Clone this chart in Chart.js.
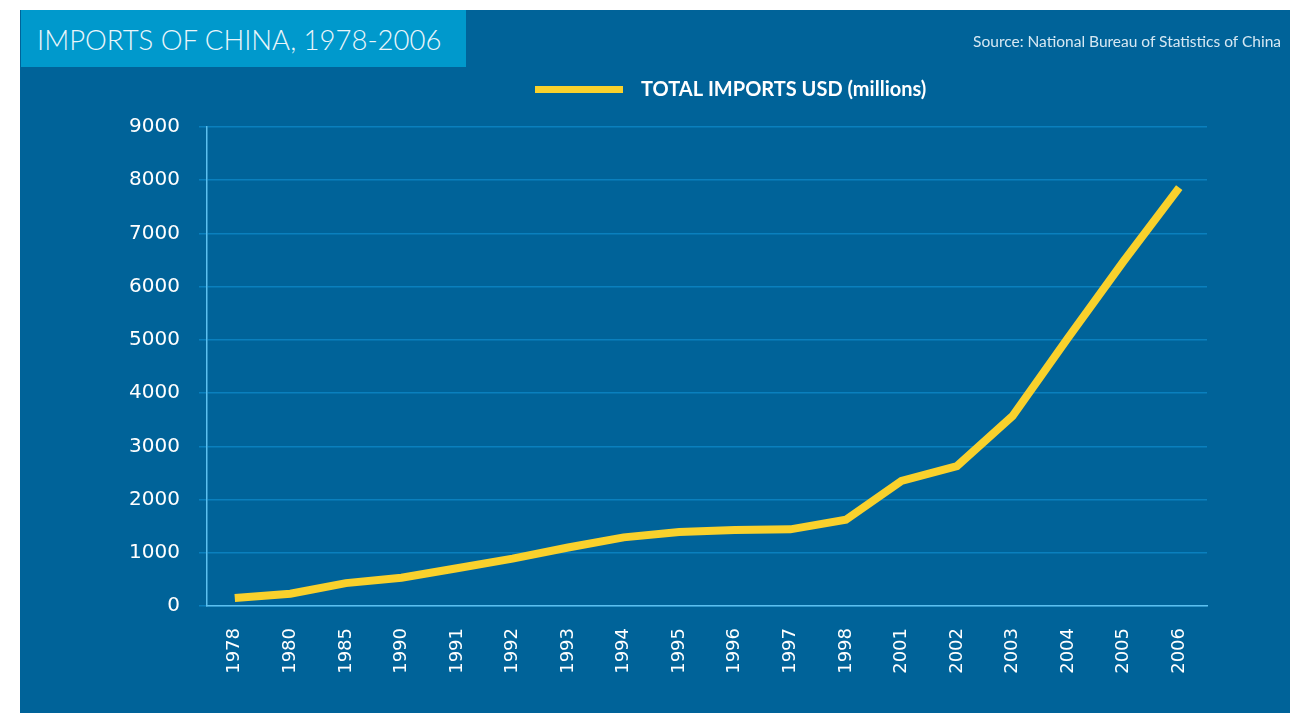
<!DOCTYPE html>
<html>
<head>
<meta charset="utf-8">
<script src="https://cdn.jsdelivr.net/npm/chart.js@4.4.0/dist/chart.umd.min.js"></script>
<style>
    html, body { margin: 0; padding: 0; background: #ffffff; }
    #panel { position: absolute; left: 20px; top: 10px; width: 1270px; height: 703px; background: #006399; }
    #titleBox { position: absolute; left: 1px; top: 0; width: 445px; height: 57px; background: #0099cc;
        color: #eaf6fb; font-family: Lato, sans-serif; font-weight: 300; font-size: 27.5px; line-height: 59px;
        padding-left: 16px; box-sizing: border-box; white-space: nowrap; }
    #source { position: absolute; right: 9px; top: 22px; color: #d6e8f3; font-family: Lato, sans-serif;
        font-size: 15.5px; white-space: nowrap; }
    #chartWrap { position: absolute; left: 0; top: 0; width: 1270px; height: 703px; }
    #importsChart { display: block; width: 1270px; height: 703px; }
</style>
</head>
<body>
<div id="panel">
    <div id="chartWrap"><canvas id="importsChart" width="1270" height="703"></canvas></div>
    <div id="titleBox">IMPORTS OF CHINA, 1978-2006</div>
    <div id="source">Source: National Bureau of Statistics of China</div>
</div>
<script>
// Imports of China
var years = ['1978', '1980', '1985', '1990', '1991', '1992', '1993', '1994', '1995',
    '1996', '1997', '1998', '2001', '2002', '2003', '2004', '2005', '2006'];
var totalImports = [150, 230, 430, 530, 710, 890, 1100, 1290, 1390,
    1430, 1440, 1620, 2350, 2630, 3570, 5040, 6480, 7860];
var yTicks = [0, 1000, 2000, 3000, 4000, 5000, 6000, 7000, 8000, 9000];

var lineColor = '#f9d12c';

// simple legend drawn above the plot, like the original graphic
var topLegend = {
    id: 'topLegend',
    afterDraw: function (chart) {
        var ctx = chart.ctx;
        var ds = chart.data.datasets[0];
        ctx.save();
        ctx.fillStyle = ds.borderColor;
        ctx.fillRect(515, 76, 88, 7);
        ctx.fillStyle = '#ffffff';
        ctx.font = 'bold 20px Lato, sans-serif';
        ctx.textBaseline = 'middle';
        ctx.fillText(ds.label, 621, 80);
        ctx.restore();
    }
};

new Chart(document.getElementById('importsChart'), {
    type: 'line',
    data: {
        labels: years,
        datasets: [{
            label: 'TOTAL IMPORTS USD (millions)',
            data: totalImports,
            borderColor: lineColor,
            backgroundColor: lineColor,
            borderWidth: 8,
            borderJoinStyle: 'miter',
            pointRadius: 0,
            tension: 0
        }]
    },
    options: {
        responsive: false,
        animation: false,
        devicePixelRatio: 1,
        layout: { padding: { top: 117, right: 83, bottom: 0, left: 0 } },
        plugins: {
            legend: { display: false },
            tooltip: { enabled: false }
        },
        scales: {
            x: {
                offset: true,
                grid: { display: false, drawTicks: false },
                border: { display: true, color: '#5cc0ef', width: 1.5 },
                ticks: {
                    autoSkip: false,
                    maxRotation: 90,
                    minRotation: 90,
                    padding: 22,
                    color: '#ffffff',
                    font: { family: 'DejaVu Sans', size: 18 }
                },
                afterFit: function (scale) { scale.height = 107; }
            },
            y: {
                min: 0,
                max: 9000,
                afterBuildTicks: function (scale) {
                    scale.ticks = yTicks.map(function (v) { return { value: v }; });
                },
                grid: { color: '#0a80be', lineWidth: 1.5, tickLength: 8 },
                border: { display: true, color: '#5cc0ef', width: 1.5 },
                ticks: {
                    padding: 19,
                    color: '#ffffff',
                    font: { family: 'DejaVu Sans', size: 20 },
                    callback: function (value) { return String(value); }
                },
                afterFit: function (scale) { scale.width = 187; }
            }
        }
    },
    plugins: [topLegend]
});
</script>
</body>
</html>
